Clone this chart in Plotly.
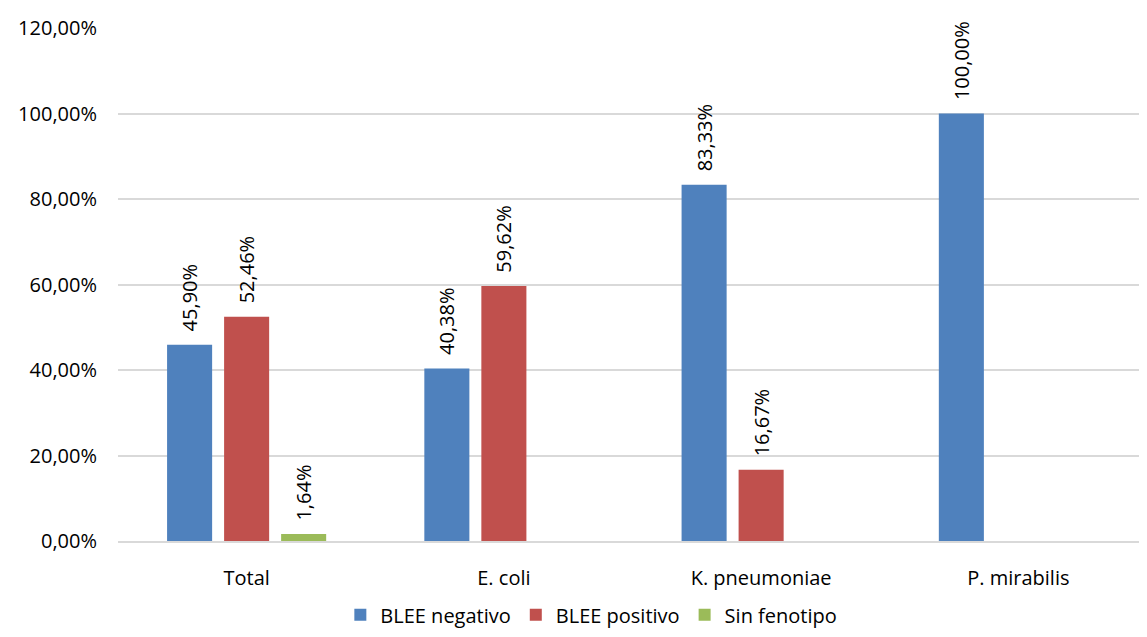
import plotly.graph_objects as go

categories = ["Total", "E. coli", "K. pneumoniae", "P. mirabilis"]
blee_negativo = [45.90, 40.38, 83.33, 100.00]
blee_positivo = [52.46, 59.62, 16.67, None]
sin_fenotipo = [1.64, None, None, None]
tick_vals = [0, 20, 40, 60, 80, 100, 120]
tick_text = ["0,00%", "20,00%", "40,00%", "60,00%", "80,00%", "100,00%", "120,00%"]

series = [
    ("BLEE negativo", blee_negativo, "#4F81BD"),
    ("BLEE positivo", blee_positivo, "#C0504D"),
    ("Sin fenotipo", sin_fenotipo, "#9BBB59"),
]

font_family = "'Open Sans', Lato, sans-serif"
fs = 20

fig = go.Figure()
for name, vals, color in series:
    fig.add_trace(go.Bar(
        x=categories, y=vals, name=name,
        marker=dict(color=color, line=dict(width=0)),
        texttemplate="\u00a0\u00a0%{y:.2f}%",
        textposition="outside", textangle=-90,
        constraintext="none",
        textfont=dict(size=fs, color="#000000", family=font_family),
        cliponaxis=False,
    ))

fig.update_layout(
    width=1139, height=629,
    paper_bgcolor="white", plot_bgcolor="white",
    separators=",.",
    barmode="group", bargap=0.335, bargroupgap=0.21,
    margin=dict(l=110, r=0, t=20, b=96),
    font=dict(family=font_family, size=fs, color="#000000"),
    legend=dict(orientation="h", x=0.46, xanchor="center", y=-0.182, yanchor="bottom",
                font=dict(size=fs), traceorder="normal", itemwidth=30),
    showlegend=True,
)
fig.update_yaxes(range=[0, 120], tickvals=tick_vals, ticktext=tick_text,
                 showgrid=True, gridcolor="#D9D9D9", gridwidth=2,
                 zeroline=False, showline=False, ticks="", ticklen=0,
                 ticklabelstandoff=20,
                 tickfont=dict(size=fs), automargin=False)
fig.update_xaxes(showline=True, linecolor="#D9D9D9", linewidth=2, ticks="",
                 ticklabelstandoff=18,
                 tickfont=dict(size=fs), automargin=False)

fig.write_html("out.html")
